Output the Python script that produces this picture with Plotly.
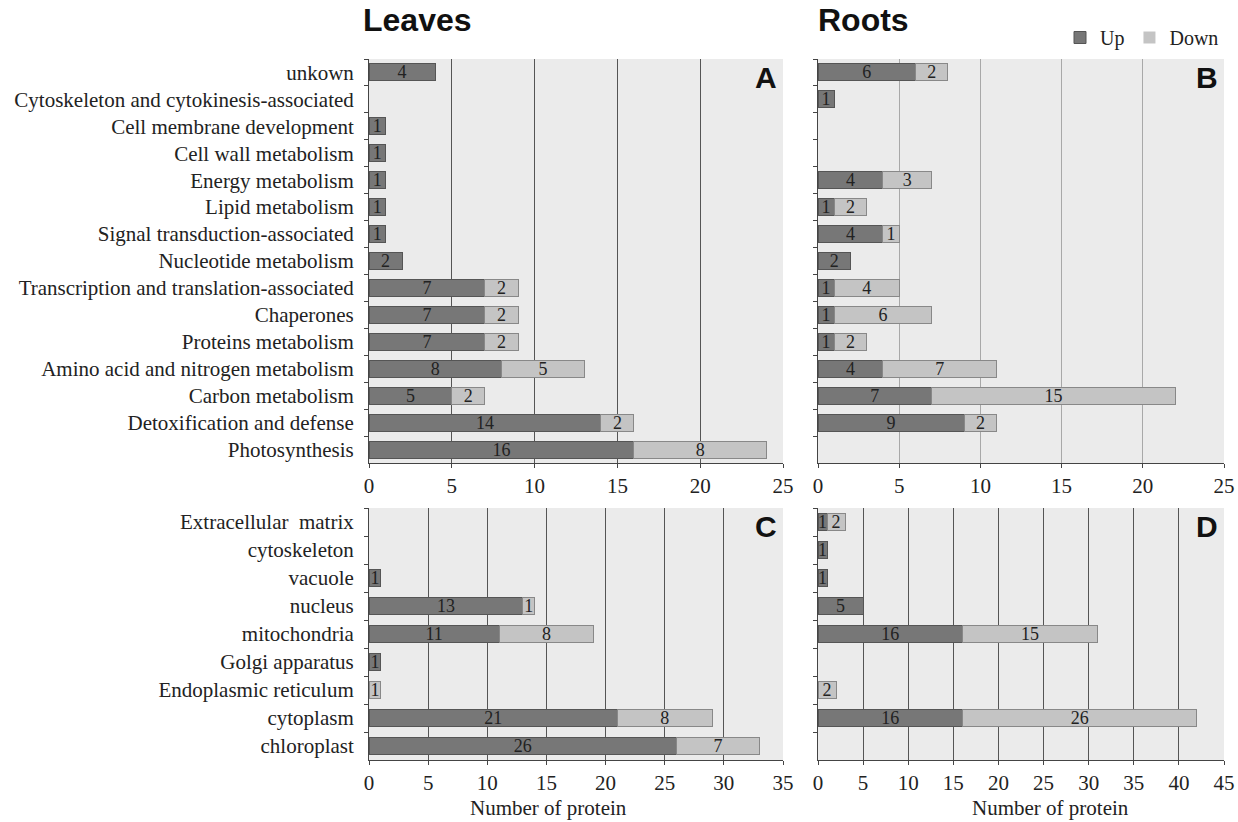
import plotly.graph_objects as go

# ---------------- data ----------------
func_categories = [
    "unkown",
    "Cytoskeleton and cytokinesis-associated",
    "Cell membrane development",
    "Cell wall metabolism",
    "Energy metabolism",
    "Lipid metabolism",
    "Signal transduction-associated",
    "Nucleotide metabolism",
    "Transcription and translation-associated",
    "Chaperones",
    "Proteins metabolism",
    "Amino acid and nitrogen metabolism",
    "Carbon metabolism",
    "Detoxification and defense",
    "Photosynthesis",
]
leaves_func_up   = [4, 0, 1, 1, 1, 1, 1, 2, 7, 7, 7, 8, 5, 14, 16]
leaves_func_down = [0, 0, 0, 0, 0, 0, 0, 0, 2, 2, 2, 5, 2, 2, 8]
roots_func_up    = [6, 1, 0, 0, 4, 1, 4, 2, 1, 1, 1, 4, 7, 9, 0]
roots_func_down  = [2, 0, 0, 0, 3, 2, 1, 0, 4, 6, 2, 7, 15, 2, 0]

loc_categories = [
    "Extracellular  matrix",
    "cytoskeleton",
    "vacuole",
    "nucleus",
    "mitochondria",
    "Golgi apparatus",
    "Endoplasmic reticulum",
    "cytoplasm",
    "chloroplast",
]
leaves_loc_up   = [0, 0, 1, 13, 11, 1, 0, 21, 26]
leaves_loc_down = [0, 0, 0, 1, 8, 0, 1, 8, 7]
roots_loc_up    = [1, 1, 1, 5, 16, 0, 0, 16, 0]
roots_loc_down  = [2, 0, 0, 0, 15, 0, 2, 26, 0]

x_ranges = {"A": 25, "B": 25, "C": 35, "D": 45}

# ---------------- styling ----------------
W, H = 1238, 822
UP_COLOR = "#777777"
DOWN_COLOR = "#c4c4c4"
SERIF = "Liberation Serif, Times New Roman, serif"
SANS = "Liberation Sans, Arial, sans-serif"

def px2x(p):
    return p / W

def py2y(p):
    return 1 - p / H

panels = {
    "A": dict(x=(369, 783), y=(59, 463), xa="x", ya="y"),
    "B": dict(x=(818, 1224), y=(59, 463), xa="x2", ya="y2"),
    "C": dict(x=(369, 783), y=(508, 760), xa="x3", ya="y3"),
    "D": dict(x=(818, 1224), y=(508, 760), xa="x4", ya="y4"),
}

fig = go.Figure()

def lbl(vals):
    return [str(v) if v else "" for v in vals]

def add_panel(key, cats, up, down, showlegend=False):
    p = panels[key]
    for name, vals, col, lc in [("Up", up, UP_COLOR, "#555555"),
                                ("Down", down, DOWN_COLOR, "#888888")]:
        fig.add_trace(go.Bar(
            y=cats, x=vals, orientation="h", name=name,
            marker=dict(color=col,
                        line=dict(color=lc, width=[1 if v else 0 for v in vals])),
            text=lbl(vals), textposition="inside", insidetextanchor="middle",
            textangle=0,
            textfont=dict(family=SERIF, size=18, color="#222222"),
            constraintext="none",
            xaxis=p["xa"], yaxis=p["ya"],
            showlegend=showlegend, legendgroup=name,
            hoverinfo="skip",
        ))

add_panel("A", func_categories, leaves_func_up, leaves_func_down, showlegend=True)
add_panel("B", func_categories, roots_func_up, roots_func_down)
add_panel("C", loc_categories, leaves_loc_up, leaves_loc_down)
add_panel("D", loc_categories, roots_loc_up, roots_loc_down)

layout = dict(
    width=W, height=H,
    autosize=False,
    margin=dict(l=0, r=0, t=0, b=0, autoexpand=False),
    paper_bgcolor="white",
    plot_bgcolor="#ebebeb",
    barmode="stack",
    bargap=0.37,
    uniformtext=dict(minsize=18, mode="show"),
    font=dict(family=SERIF, size=20, color="#222222"),
    legend=dict(orientation="h", x=px2x(1224), xanchor="right", y=py2y(18), yanchor="top",
                font=dict(family=SERIF, size=20, color="#222222"),
                itemwidth=30, traceorder="normal", bgcolor="rgba(0,0,0,0)"),
)

grid_colors = {"A": "#555555", "B": "#a8a8a8", "C": "#555555", "D": "#555555"}

for i, key in enumerate(["A", "B", "C", "D"]):
    p = panels[key]
    suffix = "" if i == 0 else str(i + 1)
    layout["xaxis" + suffix] = dict(
        domain=[px2x(p["x"][0]), px2x(p["x"][1])],
        anchor="y" + suffix,
        automargin=False,
        range=[0, x_ranges[key]], dtick=5,
        showgrid=True, gridcolor=grid_colors[key], gridwidth=1,
        showline=True, linecolor="#444444", linewidth=1,
        ticks="outside", ticklen=4, tickcolor="#444444",
        tickfont=dict(family=SERIF, size=21, color="#222222"),
        zeroline=False, fixedrange=True,
    )
    layout["yaxis" + suffix] = dict(
        domain=[py2y(p["y"][1]), py2y(p["y"][0])],
        anchor="x" + suffix,
        automargin=False,
        autorange="reversed",
        showline=True, linecolor="#444444", linewidth=1,
        ticks="outside", ticklen=4, tickcolor="#444444",
        tickson="boundaries",
        ticklabelstandoff=10,
        showticklabels=key in ("A", "C"),
        tickfont=dict(family=SERIF, size=21, color="#222222"),
        showgrid=False, fixedrange=True,
    )

fig.update_layout(**layout)

# panel letters
for key in ["A", "B", "C", "D"]:
    p = panels[key]
    fig.add_annotation(x=px2x(p["x"][1] - 4), y=py2y(p["y"][0]),
                       xref="paper", yref="paper", xanchor="right", yanchor="top",
                       text="<b>%s</b>" % key, showarrow=False,
                       font=dict(family=SANS, size=30, color="#111111"))

# column titles
fig.add_annotation(x=px2x(361), y=py2y(20), xref="paper", yref="paper",
                   xanchor="left", yanchor="middle", text="<b>Leaves</b>",
                   showarrow=False, font=dict(family=SANS, size=32, color="#111111"))
fig.add_annotation(x=px2x(816), y=py2y(20), xref="paper", yref="paper",
                   xanchor="left", yanchor="middle", text="<b>Roots</b>",
                   showarrow=False, font=dict(family=SANS, size=32, color="#111111"))

# axis titles
for cx in [548, 1050]:
    fig.add_annotation(x=px2x(cx), y=py2y(808), xref="paper", yref="paper",
                       xanchor="center", yanchor="middle", text="Number of protein",
                       showarrow=False, font=dict(family=SERIF, size=21, color="#222222"))

fig.write_html("out.html",
               config={"displayModeBar": False, "staticPlot": True},
               post_script="document.body.style.margin='0';document.body.style.overflow='hidden';")
